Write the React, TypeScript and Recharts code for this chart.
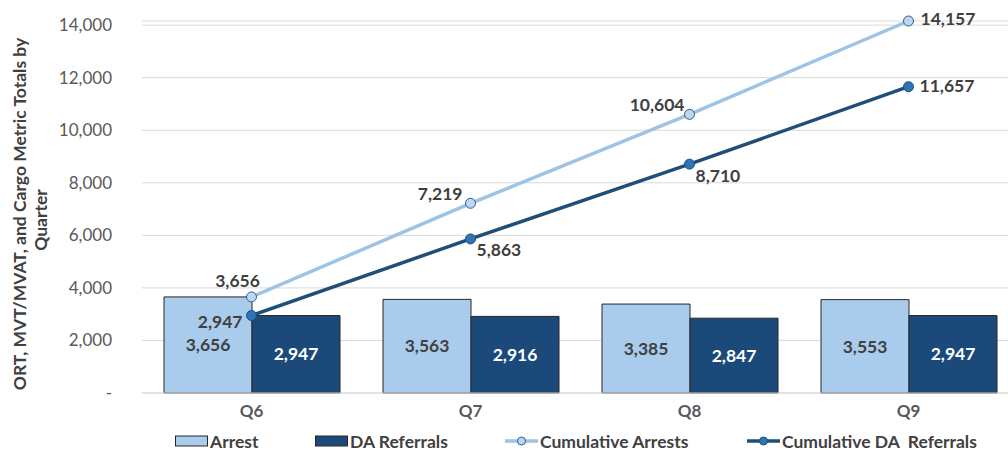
import React from "react";
import {
  ComposedChart,
  Bar,
  Line,
  XAxis,
  YAxis,
  CartesianGrid,
  Legend,
  LabelList,
} from "recharts";

const quarters = ["Q6", "Q7", "Q8", "Q9"];
const arrests = [3656, 3563, 3385, 3553];
const daReferrals = [2947, 2916, 2847, 2947];
const cumulativeArrests = [3656, 7219, 10604, 14157];
const cumulativeDaReferrals = [2947, 5863, 8710, 11657];
const yTicks = [0, 2000, 4000, 6000, 8000, 10000, 12000, 14000];

const data = quarters.map((q, i) => ({
  quarter: q,
  arrest: arrests[i],
  da: daReferrals[i],
  cumArrest: cumulativeArrests[i],
  cumDa: cumulativeDaReferrals[i],
}));

const FONT = "Lato, 'Open Sans', sans-serif";
const TEXT = "#404040";
const LIGHT = "#A9CCEC";
const DARK = "#1B4A7A";
const LIGHT_LINE = "#9DC3E6";
const DARK_LINE = "#1F4E79";

const fmt = (v: number) => v.toLocaleString("en-US");

// label placement for the line points: [dx, dy, anchor]
const cumArrestPos: [number, number, string][] = [
  [-14, -16, "middle"],
  [-8, -10, "end"],
  [-5, -10, "end"],
  [12, -3, "start"],
];
const cumDaPos: [number, number, string][] = [
  [-9, 6, "end"],
  [6, 11, "start"],
  [6, 11, "start"],
  [11, -1, "start"],
];

const lineLabel = (pos: [number, number, string][]) => (props: any) => {
  const { x, y, value, index } = props;
  const [dx, dy, anchor] = pos[index];
  return (
    <text
      x={x + dx}
      y={y + dy}
      textAnchor={anchor as any}
      dominantBaseline="central"
      fill={TEXT}
      fontFamily={FONT}
      fontWeight={700}
      fontSize={17.5}
    >
      {fmt(value)}
    </text>
  );
};

const YLabel = () => (
  <g>
    <text
      transform="translate(19,214) rotate(-90)"
      textAnchor="middle"
      dominantBaseline="central"
      fill={TEXT}
      fontFamily={FONT}
      fontWeight={700}
      fontSize={17.5}
    >
      ORT, MVT/MVAT, and Cargo Metric Totals by
    </text>
    <text
      transform="translate(40,220) rotate(-90)"
      textAnchor="middle"
      dominantBaseline="central"
      fill={TEXT}
      fontFamily={FONT}
      fontWeight={700}
      fontSize={17.5}
    >
      Quarter
    </text>
  </g>
);

const legendItems = [
  { name: "Arrest", kind: "bar", color: LIGHT, left: 175 },
  { name: "DA Referrals", kind: "bar", color: DARK, left: 315 },
  { name: "Cumulative Arrests", kind: "line", color: LIGHT_LINE, dot: "#BDD7EE", dotStroke: "#2E5E8E", left: 505 },
  { name: "Cumulative DA\u00a0 Referrals", kind: "line", color: DARK_LINE, dot: "#2E75B6", dotStroke: DARK_LINE, left: 747 },
];

const LegendContent = () => (
  <div style={{ position: "relative", height: 20, fontFamily: FONT }}>
    {legendItems.map((it) => (
      <div
        key={it.name}
        style={{
          position: "absolute",
          left: it.left,
          top: 0,
          display: "flex",
          alignItems: "center",
          height: 20,
          color: TEXT,
          fontWeight: 700,
          fontSize: 17.5,
          whiteSpace: "nowrap",
        }}
      >
        <svg width={33} height={12} style={{ marginRight: 2 }}>
          {it.kind === "bar" ? (
            <rect x={0.5} y={1} width={32} height={10} fill={it.color} stroke="#262626" strokeWidth={1} />
          ) : (
            <>
              <line x1={0} y1={6} x2={33} y2={6} stroke={it.color} strokeWidth={3.5} />
              <circle cx={16.5} cy={6} r={4} fill={it.dot} stroke={it.dotStroke} strokeWidth={1} />
            </>
          )}
        </svg>
        {it.name}
      </div>
    ))}
  </div>
);

export default function App() {
  return (
    <div style={{ position: "absolute", left: 0, top: 0, width: 1008, height: 456, overflow: "hidden", background: "#fff" }}>
      <ComposedChart
        width={1018}
        height={456}
        data={data}
        margin={{ top: 21, right: 0, left: 0, bottom: 1 }}
        barCategoryGap={22}
        barGap={0}
      >
        <CartesianGrid vertical={false} stroke="#D9D9D9" strokeWidth={1} />
        <XAxis
          dataKey="quarter"
          height={38}
          tickLine={false}
          axisLine={{ stroke: "#D9D9D9" }}
          tick={{ fill: "#595959", fontFamily: FONT, fontWeight: 700, fontSize: 17 }}
          tickMargin={6}
        />
        <YAxis
          width={142}
          domain={[0, 14000]}
          ticks={yTicks}
          interval={0}
          axisLine={false}
          tickLine={false}
          tickMargin={24}
          tickFormatter={(v: number) => (v === 0 ? "-" : fmt(v))}
          tick={{ fill: "#595959", fontFamily: FONT, fontSize: 17 }}
          label={<YLabel />}
        />
        <Legend verticalAlign="bottom" height={24} content={<LegendContent />} />
        <Bar dataKey="arrest" name="Arrest" fill={LIGHT} stroke="#262626" strokeWidth={1} isAnimationActive={false}>
          <LabelList
            dataKey="arrest"
            position="center"
            formatter={(v: any) => fmt(v)}
            fill={TEXT}
            style={{ fontFamily: FONT, fontWeight: 700, fontSize: 17.5 }}
          />
        </Bar>
        <Bar dataKey="da" name="DA Referrals" fill={DARK} stroke="#262626" strokeWidth={1} isAnimationActive={false}>
          <LabelList
            dataKey="da"
            position="center"
            formatter={(v: any) => fmt(v)}
            fill="#FFFFFF"
            style={{ fontFamily: FONT, fontWeight: 700, fontSize: 17.5 }}
          />
        </Bar>
        <Line
          dataKey="cumArrest"
          name="Cumulative Arrests"
          stroke={LIGHT_LINE}
          strokeWidth={3.5}
          dot={{ r: 5, fill: "#BDD7EE", stroke: "#2E5E8E", strokeWidth: 1 }}
          isAnimationActive={false}
        >
          <LabelList dataKey="cumArrest" content={lineLabel(cumArrestPos)} />
        </Line>
        <Line
          dataKey="cumDa"
          name="Cumulative DA Referrals"
          stroke={DARK_LINE}
          strokeWidth={3.5}
          dot={{ r: 5, fill: "#2E75B6", stroke: DARK_LINE, strokeWidth: 1 }}
          isAnimationActive={false}
        >
          <LabelList dataKey="cumDa" content={lineLabel(cumDaPos)} />
        </Line>
      </ComposedChart>
    </div>
  );
}
